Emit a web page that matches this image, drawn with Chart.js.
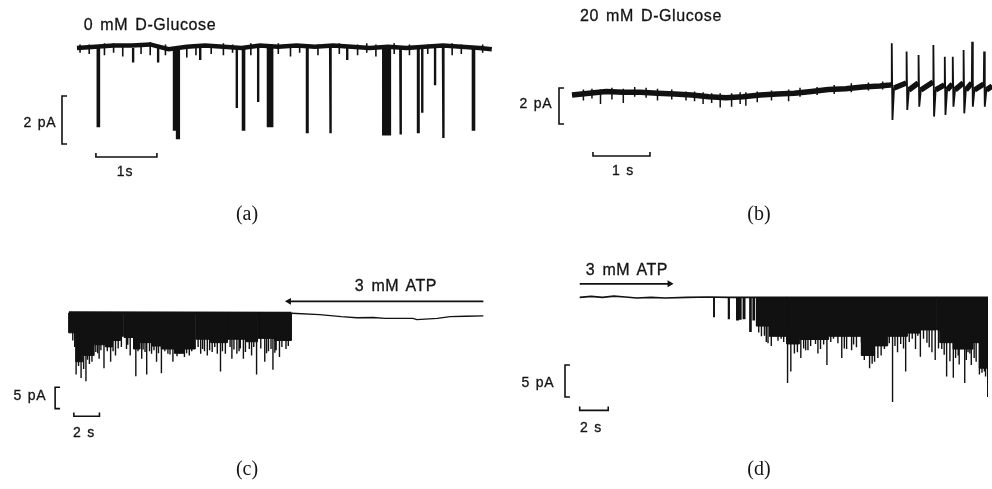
<!DOCTYPE html>
<html>
<head>
<meta charset="utf-8">
<script src="https://cdn.jsdelivr.net/npm/chart.js@4.4.1/dist/chart.umd.min.js"></script>
<style>
  html, body { margin: 0; padding: 0; background: #fff; }
  #fig { position: relative; width: 992px; height: 489px; overflow: hidden; }
  #fig canvas { position: absolute; }
  .lab { position: absolute; transform: translate(-50%, -50%); font-family: "Liberation Sans", Arial, sans-serif;
         font-size: 16px; color: #141414; white-space: pre; letter-spacing: 0.6px; word-spacing: 2px; line-height: 1;
         -webkit-text-stroke: 0.3px #141414; }
  .sm { font-size: 14px; letter-spacing: 0.8px; word-spacing: 1px; }
  .cap { position: absolute; transform: translate(-50%, -50%); font-family: "Liberation Serif", "DejaVu Serif", serif;
         font-size: 20px; color: #151515; line-height: 1; }
</style>
</head>
<body>
<div id="fig">
  <canvas id="pa" width="496" height="245" style="left:0;top:0"></canvas>
  <canvas id="pb" width="496" height="245" style="left:496px;top:0"></canvas>
  <canvas id="pc" width="496" height="244" style="left:0;top:245px"></canvas>
  <canvas id="pd" width="496" height="244" style="left:496px;top:245px"></canvas>

  <div class="lab" style="left:150px;top:25px">0 mM D-Glucose</div>
  <div class="lab sm" style="left:40px;top:122px">2 pA</div>
  <div class="lab sm" style="left:125px;top:171px">1s</div>
  <div class="cap" style="left:247px;top:213px">(a)</div>

  <div class="lab" style="left:651px;top:16px">20 mM D-Glucose</div>
  <div class="lab sm" style="left:536px;top:103px">2 pA</div>
  <div class="lab sm" style="left:623px;top:170px">1 s</div>
  <div class="cap" style="left:759px;top:213px">(b)</div>

  <div class="lab" style="left:396px;top:286px">3 mM ATP</div>
  <div class="lab sm" style="left:30px;top:395px">5 pA</div>
  <div class="lab sm" style="left:84px;top:432px">2 s</div>
  <div class="cap" style="left:247px;top:468px">(c)</div>

  <div class="lab" style="left:627px;top:270px">3 mM ATP</div>
  <div class="lab sm" style="left:538px;top:382px">5 pA</div>
  <div class="lab sm" style="left:591px;top:427px">2 s</div>
  <div class="cap" style="left:759px;top:468px">(d)</div>
</div>

<script>
// ---- (a) 0 mM glucose: time in s, current in pA ----
const aBaseT = [0, 0.3, 0.6, 0.9, 1.2, 1.5, 1.8, 2.1, 2.4, 2.7, 3.0, 3.3, 3.6, 3.9, 4.2, 4.5, 4.8, 5.1, 5.4, 5.7, 6.0, 6.3, 6.6, 6.8];
const aBaseI = [0, 0.05, 0.1, 0.1, 0.15, -0.05, 0.05, 0.1, 0.05, 0, 0.1, 0.05, 0.1, 0.05, 0.1, 0.05, 0, 0.05, 0, 0.05, 0.1, 0.05, 0, -0.05];
const aNoiseT = [0.05, 0.2, 0.45, 0.6, 0.75, 1.05, 1.2, 1.45, 1.8, 1.95, 2.2, 2.4, 2.55, 2.85, 3.3, 3.5, 3.65, 3.95, 4.3, 4.6, 4.75, 4.9, 5.2, 5.45, 5.75, 6.15, 6.3, 6.65];
const aNoiseLo = [-0.2, -0.25, -0.3, -0.2, -0.35, -0.25, -0.3, -0.3, -0.4, -0.3, -0.25, -0.3, -0.2, -0.3, -0.25, -0.35, -0.2, -0.3, -0.25, -0.3, -0.2, -0.35, -0.25, -0.3, -0.25, -0.3, -0.25, -0.2];
const aNoiseHi = [0.15, 0.15, 0.2, 0.2, 0.15, 0.2, 0.25, 0.15, 0.1, 0.15, 0.15, 0.2, 0.15, 0.2, 0.2, 0.15, 0.15, 0.15, 0.2, 0.15, 0.2, 0.15, 0.2, 0.15, 0.15, 0.2, 0.15, 0.15];
const aOpenT = [0.34, 0.92, 1.33, 1.59, 1.64, 2.02, 2.62, 2.72, 2.97, 3.13, 3.77, 4.15, 4.43, 5.02, 5.30, 5.59, 5.66, 5.87, 6.00, 6.49];
const aOpenI = [-3.25, -0.6, -0.6, -3.4, -3.75, -0.5, -2.5, -3.4, -2.25, -3.25, -3.5, -3.55, -0.5, -3.6, -3.6, -3.5, -2.7, -1.55, -3.75, -3.4];
const aOpenDur = [0.02, 0, 0, 0.02, 0.03, 0, 0, 0.02, 0, 0.07, 0.01, 0.01, 0, 0.11, 0.01, 0.01, 0, 0, 0.01, 0.02];
const aBarSec = 1, aBarPA = 2;

// ---- (b) 20 mM glucose ----
const bBaseT = [0, 0.3, 0.6, 0.9, 1.2, 1.5, 1.8, 2.1, 2.4, 2.7, 3.0, 3.3, 3.6, 3.9, 4.2, 4.5, 4.8, 5.1, 5.4, 5.58];
const bBaseI = [0, 0.1, 0.2, 0.15, 0.15, 0.1, 0.05, 0, -0.1, -0.15, -0.1, 0, 0.05, 0.1, 0.2, 0.3, 0.35, 0.45, 0.5, 0.55];
const bNoiseT = [0.2, 0.35, 0.5, 0.7, 0.9, 1.1, 1.3, 1.5, 1.75, 2.0, 2.15, 2.3, 2.45, 2.6, 2.8, 2.95, 3.05, 3.25, 3.5, 3.8, 4.0, 4.3, 4.6, 4.9, 5.2, 5.45];
const bNoiseLo = [-0.3, -0.2, -0.5, -0.25, -0.45, -0.1, -0.15, -0.3, -0.25, -0.3, -0.35, -0.5, -0.45, -0.7, -0.65, -0.5, -0.6, -0.4, -0.3, -0.35, -0.1, 0, 0.05, 0.15, 0.25, 0.3];
const bNoiseHi = [0.3, 0.35, 0.3, 0.4, 0.35, 0.45, 0.4, 0.35, 0.3, 0.2, 0.2, 0.15, 0.1, 0.1, 0.1, 0.15, 0.15, 0.2, 0.25, 0.3, 0.4, 0.45, 0.55, 0.65, 0.7, 0.75];
const bSpikeT = [5.61, 5.87, 6.08, 6.34, 6.54, 6.68, 6.87, 7.02, 7.23];
const bSpikeTop = [2.87, 2.41, 2.22, 2.78, 2.13, 2.13, 2.5, 2.96, 2.41];
const bSpikeBot = [-1.39, -0.83, -0.65, -1.2, -1.11, -0.65, -1.02, -0.65, -0.65];
const bSpikePre = [0.56, 0.67, 0.67, 0.72, 0.56, 0.61, 0.67, 0.67, 0.61];
const bSpikePost = [0.39, 0.28, 0.28, 0.28, 0.28, 0.28, 0.28, 0.28, 0.28];
const bEndT = 7.37, bEndI = 0.5;
const bBarSec = 1, bBarPA = 2;

// ---- (c) ATP applied: channel activity stops ----
// step edges of the dense open-channel band and its depth in each step (0 = brief closure)
const cStepT = [0, 0.56, 1.08, 1.97, 2.87, 3.4, 4.03, 4.25, 4.33, 5.05, 5.56, 6.46, 7.23, 8.26, 9.03, 9.88, 9.96, 11.1, 12.36, 12.42, 13.9, 14.75, 14.83, 16.1, 17.4];
const cStepI = [-4.7, -11.5, -10.0, -7.5, -8.0, -6.5, -5.5, 0, -5.8, -8.5, -7.0, -7.8, -8.5, -9.5, -8.5, 0, -6.2, -7.0, 0, -6.2, -6.8, 0, -6.0, -6.5];
const cSpikeT = [0.56, 0.95, 1.33, 2.1, 2.36, 2.74, 3.26, 3.64, 4.79, 5.23, 5.69, 6.08, 6.46, 6.85, 7.23, 7.74, 8.13, 8.64, 9.03, 9.41, 10.3, 10.82, 11.85, 12.23, 12.74, 13.13, 13.64, 14.28, 14.67, 15.31, 15.95, 16.46, 16.97];
const cSpikeI = [-14.5, -15.3, -16.1, -9.2, -10.8, -13.0, -11.5, -10.0, -10.0, -14.9, -10.8, -14.5, -9.6, -11.5, -14.2, -9.6, -11.5, -9.6, -10.4, -10.0, -9.6, -10.0, -13.8, -9.6, -10.8, -9.6, -10.8, -10.0, -14.5, -11.5, -13.4, -10.4, -8.5];
const cShortT = [0.3, 0.45, 0.75, 1.15, 1.45, 1.6, 1.8, 2.25, 2.5, 3.0, 3.45, 3.85, 4.1, 4.5, 4.6, 5.4, 5.8, 5.95, 6.3, 6.65, 7.0, 7.5, 7.9, 8.3, 8.45, 8.8, 8.9, 9.2, 9.6, 10.1, 10.45, 10.6, 11.0, 11.2, 11.4, 11.6, 12.0, 12.6, 12.9, 13.3, 13.4, 13.8, 14.1, 14.45, 15.0, 15.45, 15.6, 15.8, 16.1, 16.2, 16.65, 17.15];
const cShortI = [-6.5, -8.0, -12.5, -13.2, -11.0, -12.0, -11.5, -9.5, -8.8, -9.0, -9.0, -8.4, -8.0, -8.5, -7.5, -9.0, -8.6, -9.2, -9.0, -8.8, -9.5, -9.0, -9.8, -9.0, -10.2, -9.0, -9.4, -9.5, -9.0, -8.0, -8.5, -9.0, -8.8, -9.2, -8.0, -9.6, -9.0, -8.0, -8.6, -9.0, -8.4, -9.2, -8.5, -8.0, -8.4, -9.5, -9.0, -8.5, -9.4, -8.8, -8.0, -7.8];
const cBaseT = [0, 17.4];
const cBaseI = [0.1, 0];
const cFlatT = [17.4, 19.6, 21.3, 22.5, 23.8, 24.7, 26.9, 27.2, 28.8, 29.8, 31, 32.4];
const cFlatI = [-0.1, -0.4, -0.9, -1.15, -1.1, -1.3, -1.3, -1.6, -1.3, -0.9, -0.8, -0.7];
const cBarSec = 2, cBarPA = 5;

// ---- (d) ATP washed out: activity returns ----
const dBaseT = [0, 0.8, 1.6, 2.4, 3.2, 4.0, 5.0, 6.0, 7.5, 9.0, 10.5, 12.4, 28.62];
const dBaseI = [0, 0.15, 0, 0.2, 0.05, -0.1, 0, -0.1, 0, 0.05, 0, 0, 0];
const dOpenT = [9.4, 10.43, 11.01, 11.2, 11.47, 11.93, 12.16];
const dOpenI = [-3.0, -3.3, -3.5, -3.4, -3.3, -5.3, -3.5];
const dOpenDur = [0.03, 0.05, 0.1, 0.1, 0.1, 0.08, 0.08];
const dStepT = [12.39, 13.31, 14.46, 14.52, 15.4, 17.45, 19.75, 20.67, 21.59, 22.97, 23.89, 25.0, 25.06, 25.26, 26.19, 27.57, 28.02, 28.62];
const dStepI = [-4.5, -6.1, 0, -7.3, -6.6, -6.1, -9.1, -7.6, -6.1, -5.6, -5.1, 0, -5.1, -7.1, -8.1, -7.1, -11.1];
const dSpikeT = [14.57, 14.8, 15.5, 15.84, 17.33, 18.37, 19.06, 20.32, 21.93, 22.85, 23.88, 24.92, 25.72, 26.19, 26.99, 27.45, 28.02, 28.6];
const dSpikeI = [-13.4, -11.6, -9.5, -8.3, -10.6, -9.5, -8.3, -11.1, -16.4, -11.6, -9.3, -9.8, -12.4, -12.6, -13.4, -10.6, -12.1, -15.6];
const dShortT = [12.55, 12.74, 12.95, 13.08, 13.2, 13.43, 13.66, 13.9, 14.12, 14.3, 15.05, 15.26, 15.7, 16.0, 16.19, 16.53, 16.7, 16.88, 17.1, 17.6, 17.79, 18.1, 18.55, 18.71, 19.2, 19.4, 19.75, 19.95, 20.5, 20.67, 20.9, 21.13, 21.36, 21.7, 22.1, 22.28, 22.5, 22.7, 23.1, 23.31, 23.54, 23.7, 24.1, 24.34, 24.5, 24.69, 25.15, 25.38, 25.55, 25.95, 26.35, 26.53, 26.6, 26.76, 27.1, 27.22, 27.35, 27.65, 27.79, 28.2, 28.37, 28.45];
const dShortI = [-5.5, -6.1, -6.0, -7.0, -7.2, -7.6, -5.6, -6.8, -6.5, -7.0, -8.8, -8.6, -8.0, -8.3, -7.6, -7.3, -8.8, -8.1, -7.4, -7.0, -6.5, -7.2, -8.0, -8.1, -7.4, -7.8, -7.1, -9.8, -10.4, -10.1, -9.5, -9.1, -8.1, -7.2, -7.6, -8.6, -7.3, -8.0, -7.0, -6.5, -8.1, -6.0, -6.5, -7.1, -7.8, -8.6, -8.0, -8.1, -9.0, -10.0, -9.5, -9.1, -10.5, -7.6, -9.8, -8.6, -8.8, -9.5, -10.1, -11.8, -11.6, -12.4];
const dBarSec = 2, dBarPA = 5;

const INK = '#111';

// canvas frames: pixel position of t = 0 / I = 0 and pixels per unit
const FRAME = {
  a: { w: 496, h: 245, x0: 77, ppx: 61, y0: 48, ppy: 24 },
  b: { w: 496, h: 245, x0: 76, ppx: 57, y0: 95, ppy: 18 },
  c: { w: 496, h: 244, x0: 66, ppx: 13, y0: 66, ppy: 4.4 },
  d: { w: 496, h: 244, x0: 81, ppx: 14.5, y0: 50, ppy: 6.6 }
};

const pts = (ts, vs) => ts.map((t, i) => ({ x: t, y: vs[i] }));

function order(ts) {
  return ts.map((t, i) => i).sort((p, q) => ts[p] - ts[q]);
}

// each opening: down from baseline, dwell, back up; null breaks the path
function openings(ts, amps, durs) {
  const out = [];
  order(ts).forEach(i => {
    const t = ts[i], d = durs ? durs[i] : 0;
    out.push({ x: t, y: 0 }, { x: t, y: amps[i] }, { x: t + d, y: amps[i] }, { x: t + d, y: 0 }, { x: t + d, y: null });
  });
  return out;
}

// short vertical noise strokes between lo and hi
function strokes(ts, lo, hi) {
  const out = [];
  ts.forEach((t, i) => out.push({ x: t, y: lo[i] }, { x: t, y: hi[i] }, { x: t, y: null }));
  return out;
}

// step outline of a band: edges[k]..edges[k+1] sits at level[k]
function steps(edges, level) {
  const out = [{ x: edges[0], y: 0 }];
  level.forEach((v, k) => out.push({ x: edges[k], y: v }, { x: edges[k + 1], y: v }));
  out.push({ x: edges[edges.length - 1], y: 0 });
  return out;
}

function line(data, width, extra) {
  return Object.assign({ data, borderColor: INK, borderWidth: width, pointRadius: 0, fill: false, spanGaps: false }, extra || {});
}

// calibration bars: vertical "[" for current, horizontal for time
function calBars(f, bx, by, pa, tx, ty, sec) {
  const tick = 5 / f.ppx, up = 4 / f.ppy;
  return [
    line([{ x: bx + tick, y: by }, { x: bx, y: by }, { x: bx, y: by - pa }, { x: bx + tick, y: by - pa }], 1.6),
    line([{ x: tx, y: ty + up }, { x: tx, y: ty }, { x: tx + sec, y: ty }, { x: tx + sec, y: ty + up }], 1.6)
  ];
}

function arrowHead(x, y, rot) {
  return { data: [{ x, y }], showLine: false, pointRadius: 4, pointStyle: 'triangle', rotation: rot,
           pointBackgroundColor: INK, pointBorderWidth: 0 };
}

function drawPanel(id, f, datasets) {
  new Chart(document.getElementById(id), {
    type: 'line',
    data: { datasets },
    options: {
      responsive: false, animation: false, events: [],
      layout: { padding: 0 },
      plugins: { legend: { display: false }, tooltip: { enabled: false } },
      elements: { point: { radius: 0 }, line: { tension: 0, borderCapStyle: 'butt' } },
      scales: {
        x: { type: 'linear', display: false, min: -f.x0 / f.ppx, max: (f.w - f.x0) / f.ppx },
        y: { type: 'linear', display: false, min: -(f.h - f.y0) / f.ppy, max: f.y0 / f.ppy }
      }
    }
  });
}

// (a)
drawPanel('pa', FRAME.a, [
  line(pts(aBaseT, aBaseI), 4.5),
  line(strokes(aNoiseT, aNoiseLo, aNoiseHi), 1.6),
  line(openings(aOpenT, aOpenI, aOpenDur), 2.4, { fill: 'origin', backgroundColor: INK }),
  ...calBars(FRAME.a, -0.246, -2.0, aBarPA, 0.31, -4.54, aBarSec)
]);

// (b): thin full trace with spikes, thick noisy band under it
const bTrace = pts(bBaseT, bBaseI);
const bBand = pts(bBaseT, bBaseI);
bSpikeT.forEach((t, i) => {
  bTrace.push({ x: t - 0.006, y: bSpikePre[i] }, { x: t, y: bSpikeTop[i] }, { x: t + 0.012, y: bSpikeBot[i] }, { x: t + 0.04, y: bSpikePost[i] });
  bBand.push({ x: t - 0.006, y: bSpikePre[i] }, { x: t - 0.006, y: null }, { x: t + 0.04, y: bSpikePost[i] });
});
bTrace.push({ x: bEndT, y: bEndI });
bBand.push({ x: bEndT, y: bEndI });
drawPanel('pb', FRAME.b, [
  line(bBand, 5.5),
  line(bTrace, 1.8),
  line(strokes(bNoiseT, bNoiseLo, bNoiseHi), 1.5),
  ...calBars(FRAME.b, -0.228, 0.39, bBarPA, 0.368, -3.39, bBarSec)
]);

// (c)
drawPanel('pc', FRAME.c, [
  line(steps(cStepT, cStepI), 1, { fill: 'origin', backgroundColor: INK }),
  line(pts(cBaseT, cBaseI), 2.2),
  line(openings(cSpikeT, cSpikeI), 1.4),
  line(openings(cShortT, cShortI), 1.4),
  line(pts(cFlatT, cFlatI), 1.3),
  line([{ x: 32.4, y: 2.7 }, { x: 17.3, y: 2.7 }], 1.6),
  arrowHead(17.2, 2.7, 270),
  ...calBars(FRAME.c, -1.08, -17.5, cBarPA, 0.385, -24.3, cBarSec)
]);

// (d)
drawPanel('pd', FRAME.d, [
  line(steps(dStepT, dStepI), 1, { fill: 'origin', backgroundColor: INK }),
  line(pts(dBaseT, dBaseI), 1.6),
  line(openings(dOpenT, dOpenI, dOpenDur), 1.5, { fill: 'origin', backgroundColor: INK }),
  line(openings(dSpikeT, dSpikeI), 1.4),
  line(openings(dShortT, dShortI), 1.4),
  line([{ x: 0, y: 2.12 }, { x: 6.2, y: 2.12 }], 1.6),
  arrowHead(6.3, 2.12, 90),
  ...calBars(FRAME.d, -1.03, -10.6, dBarPA, 0, -17.7, dBarSec)
]);
</script>
</body>
</html>
